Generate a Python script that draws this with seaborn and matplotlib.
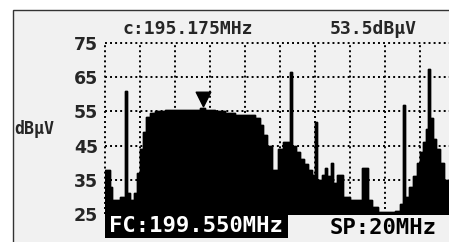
import matplotlib
matplotlib.use("Agg")
import matplotlib.pyplot as plt
from matplotlib.patches import Rectangle
import seaborn as sns

#? Spectrum trace (step values, MHz / dBuV)
freq_mhz = [189.55, 189.84, 189.95, 190.41, 190.64, 190.69, 190.81, 190.98, 191.21, 191.38,
            191.55, 191.72, 191.89, 192.12, 192.41, 192.98, 193.55, 194.12, 194.69, 194.98,
            195.26, 195.84, 196.41, 196.98, 197.55, 198.12, 198.41, 198.58, 198.81, 199.09,
            199.44, 199.72, 200.06, 200.12, 200.24, 200.46, 200.69, 200.92, 201.15, 201.38,
            201.55, 201.66, 201.95, 202.12, 202.24, 202.46, 202.58, 202.81, 203.15, 203.55,
            204.12, 204.24, 204.58, 204.81, 205.15, 206.12, 206.41, 206.58, 206.69, 206.92,
            207.15, 207.38, 207.55, 207.72, 207.89, 208.01, 208.12, 208.29, 208.46, 208.69,
            208.92, 209.21, 209.55]
level_dbuv = [38, 33, 29, 30, 29.5, 61, 31, 29, 31, 37,
              44, 49, 53.5, 54.5, 55, 55.3, 55.5, 55.3, 55.5, 56,
              55.5, 55, 54.5, 54, 54, 53, 51, 48, 45, 38,
              44, 46, 46, 66.5, 45, 43, 41, 39.5, 38, 36.5,
              52, 35, 36.5, 38.5, 36, 40, 34, 36.5, 30, 29,
              29, 38.5, 29, 27, 25.5, 26, 28, 57, 30, 33,
              36, 40, 43, 46, 50, 67.5, 53, 47, 44, 40,
              35, 32, 32]

y_ticks = [25, 35, 45, 55, 65, 75]
x_grid = [189.55 + 2 * i for i in range(11)]

marker_freq = 195.175
marker_level = 53.5
center_freq = 199.550
span_mhz = 20

sns.set_style("white")
plt.rcParams["font.family"] = ["DejaVu Sans Mono", "DejaVu Sans"]

W, H = 449, 242
fig = plt.figure(figsize=(W / 100, H / 100), dpi=100, facecolor="white")

#? screen background with frame
bg = Rectangle((13 / W, -0.05), 1, 1.05 - 10 / H, transform=fig.transFigure,
               facecolor="#f1f1f1", edgecolor="#333333", linewidth=1)
bg.set_zorder(-5)
fig.patches.append(bg)

ax = fig.add_axes([105 / W, 28 / H, 350 / W, 171 / H])
ax.set_facecolor("none")
ax.set_zorder(1)

sns.lineplot(x=freq_mhz, y=level_dbuv, drawstyle="steps-post", color="black",
             linewidth=1, estimator=None, ax=ax, zorder=3)
ax.fill_between(freq_mhz, level_dbuv, 20, step="post", color="black", zorder=3)

#? marker
ax.scatter([marker_freq], [58.5], marker="v", s=110, color="black", zorder=4, clip_on=False)

ax.set_xlim(189.55, 209.55)
ax.set_ylim(25, 75)
ax.set_xticks(x_grid)
ax.set_yticks(y_ticks)
ax.set_xticklabels([])
ax.set_yticklabels([str(v) for v in y_ticks], fontsize=12.5, fontweight="bold", family="DejaVu Sans")
ax.tick_params(length=0, pad=5)
ax.set_axisbelow(True)
ax.grid(True, color="black", linestyle=(0, (1, 1.6)), linewidth=1.4)
for line in ax.get_xgridlines() + ax.get_ygridlines():
    line.set_clip_on(False)
for s in ax.spines.values():
    s.set_visible(False)

#? readouts
fig.text(122 / W, 1 - 29 / H, f"c:{marker_freq:.3f}MHz", fontsize=13, fontweight="bold",
         va="center", ha="left")
fig.text(330 / W, 1 - 29 / H, f"{marker_level}dBµV", fontsize=13, fontweight="bold",
         va="center", ha="left")
fig.text(14 / W, 1 - 129 / H, "dBµV", fontsize=12, fontweight="bold", va="center", ha="left")

box = Rectangle((105 / W, 4 / H), 183 / W, 25 / H, transform=fig.transFigure,
                facecolor="black", edgecolor="none")
box.set_zorder(5)
fig.patches.append(box)
fig.text(196 / W, 1 - 226 / H, f"FC:{center_freq:.3f}MHz", fontsize=16, fontweight="bold",
         color="white", va="center", ha="center", zorder=6)
fig.text(330 / W, 1 - 228 / H, f"SP:{span_mhz}MHz", fontsize=16, fontweight="bold",
         color="black", va="center", ha="left", zorder=6)

fig.savefig("out.png", dpi=100, facecolor="white")
